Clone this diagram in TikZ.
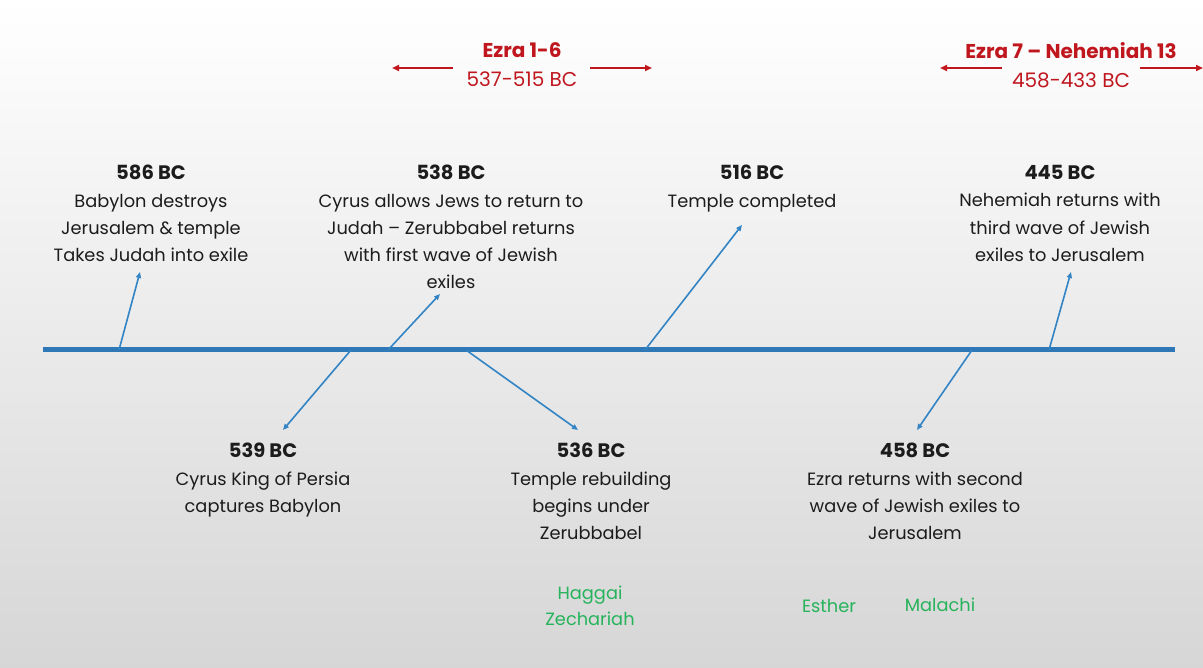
\documentclass[tikz,border=0pt]{standalone}
\usepackage{fontspec}
\setmainfont{Poppins}
\usetikzlibrary{arrows.meta}
\definecolor{tlblue}{HTML}{2E78B8}
\definecolor{arblue}{HTML}{3384C4}
\definecolor{ezred}{HTML}{C0161E}
\definecolor{bkgreen}{HTML}{27B35C}
\definecolor{txt}{HTML}{1C1C1C}
\newcommand{\yr}[1]{{\fontsize{19.5}{27}\selectfont\bfseries #1}}
\tikzset{
  ev/.style={align=center, anchor=north, inner sep=0pt, text=txt,
    font=\fontsize{17.8}{27.3}\selectfont},
  ez/.style={align=center, anchor=north, inner sep=0pt, text=ezred,
    font=\fontsize{20}{29}\selectfont},
  bk/.style={align=center, anchor=north, inner sep=0pt, text=bkgreen,
    font=\fontsize{17.8}{26}\selectfont},
  arr/.style={arblue, line width=1.6pt, -{Triangle[length=6pt,width=5pt]}},
  rarr/.style={ezred, line width=2.2pt, -{Triangle[length=7pt,width=6pt]}},
}
\begin{document}
\begin{tikzpicture}[x=1pt,y=-1pt]
\shade[top color=white, middle color=black!4, bottom color=black!16] (0,0) rectangle (1203,668);
\useasboundingbox (0,0) rectangle (1203,668);

% timeline
\coordinate (tlL) at (43,350);
\coordinate (tlR) at (1175,350);
\draw[tlblue, line width=5pt] (tlL) -- (tlR);

% book ranges
\node[ez] (ez1) at (522,42) {\textbf{Ezra 1-6}\\537-515 BC};
\coordinate (ez1La) at (453,68); \coordinate (ez1Lb) at (392,68);
\coordinate (ez1Ra) at (590,68); \coordinate (ez1Rb) at (652,68);
\draw[rarr] (ez1La) -- (ez1Lb);
\draw[rarr] (ez1Ra) -- (ez1Rb);

\node[ez] (ez2) at (1071,42) {\textbf{Ezra 7 – Nehemiah 13}\\458-433 BC};
\coordinate (ez2La) at (1002,68); \coordinate (ez2Lb) at (940,68);
\coordinate (ez2Ra) at (1140,68); \coordinate (ez2Rb) at (1203,68);
\draw[rarr] (ez2La) -- (ez2Lb);
\draw[rarr] (ez2Ra) -- (ez2Rb);

% events above
\node[ev] (e586) at (151,165) {\yr{586 BC}\\Babylon destroys\\Jerusalem \& temple\\Takes Judah into exile};
\node[ev] (e538) at (451,165) {\yr{538 BC}\\Cyrus allows Jews to return to\\Judah – Zerubbabel returns\\with first wave of Jewish\\exiles};
\node[ev] (e516) at (752,165) {\yr{516 BC}\\Temple completed};
\node[ev] (e445) at (1060,165) {\yr{445 BC}\\Nehemiah returns with\\third wave of Jewish\\exiles to Jerusalem};

% events below
\node[ev] (e539) at (263,443) {\yr{539 BC}\\Cyrus King of Persia\\captures Babylon};
\node[ev] (e536) at (591,443) {\yr{536 BC}\\Temple rebuilding\\begins under\\Zerubbabel};
\node[ev] (e458) at (915,443) {\yr{458 BC}\\Ezra returns with second\\wave of Jewish exiles to\\Jerusalem};

% connectors
\coordinate (s586) at (119,350); \coordinate (t586) at (140,272);
\coordinate (s538) at (388,350); \coordinate (t538) at (440,294);
\coordinate (s539) at (351,350); \coordinate (t539) at (283,430);
\coordinate (s536) at (466,350); \coordinate (t536) at (578,430);
\coordinate (s516) at (645,350); \coordinate (t516) at (742,225);
\coordinate (s458) at (972,350); \coordinate (t458) at (917,430);
\coordinate (s445) at (1049,350); \coordinate (t445) at (1071,272);
\foreach \k in {586,538,539,536,516,458,445}{\draw[arr] (s\k) -- (t\k);}

% prophets / books
\node[bk] (hz) at (590,586) {Haggai\\Zechariah};
\node[bk] (es) at (829,599) {Esther};
\node[bk] (ma) at (940,598) {Malachi};
\end{tikzpicture}
\end{document}
